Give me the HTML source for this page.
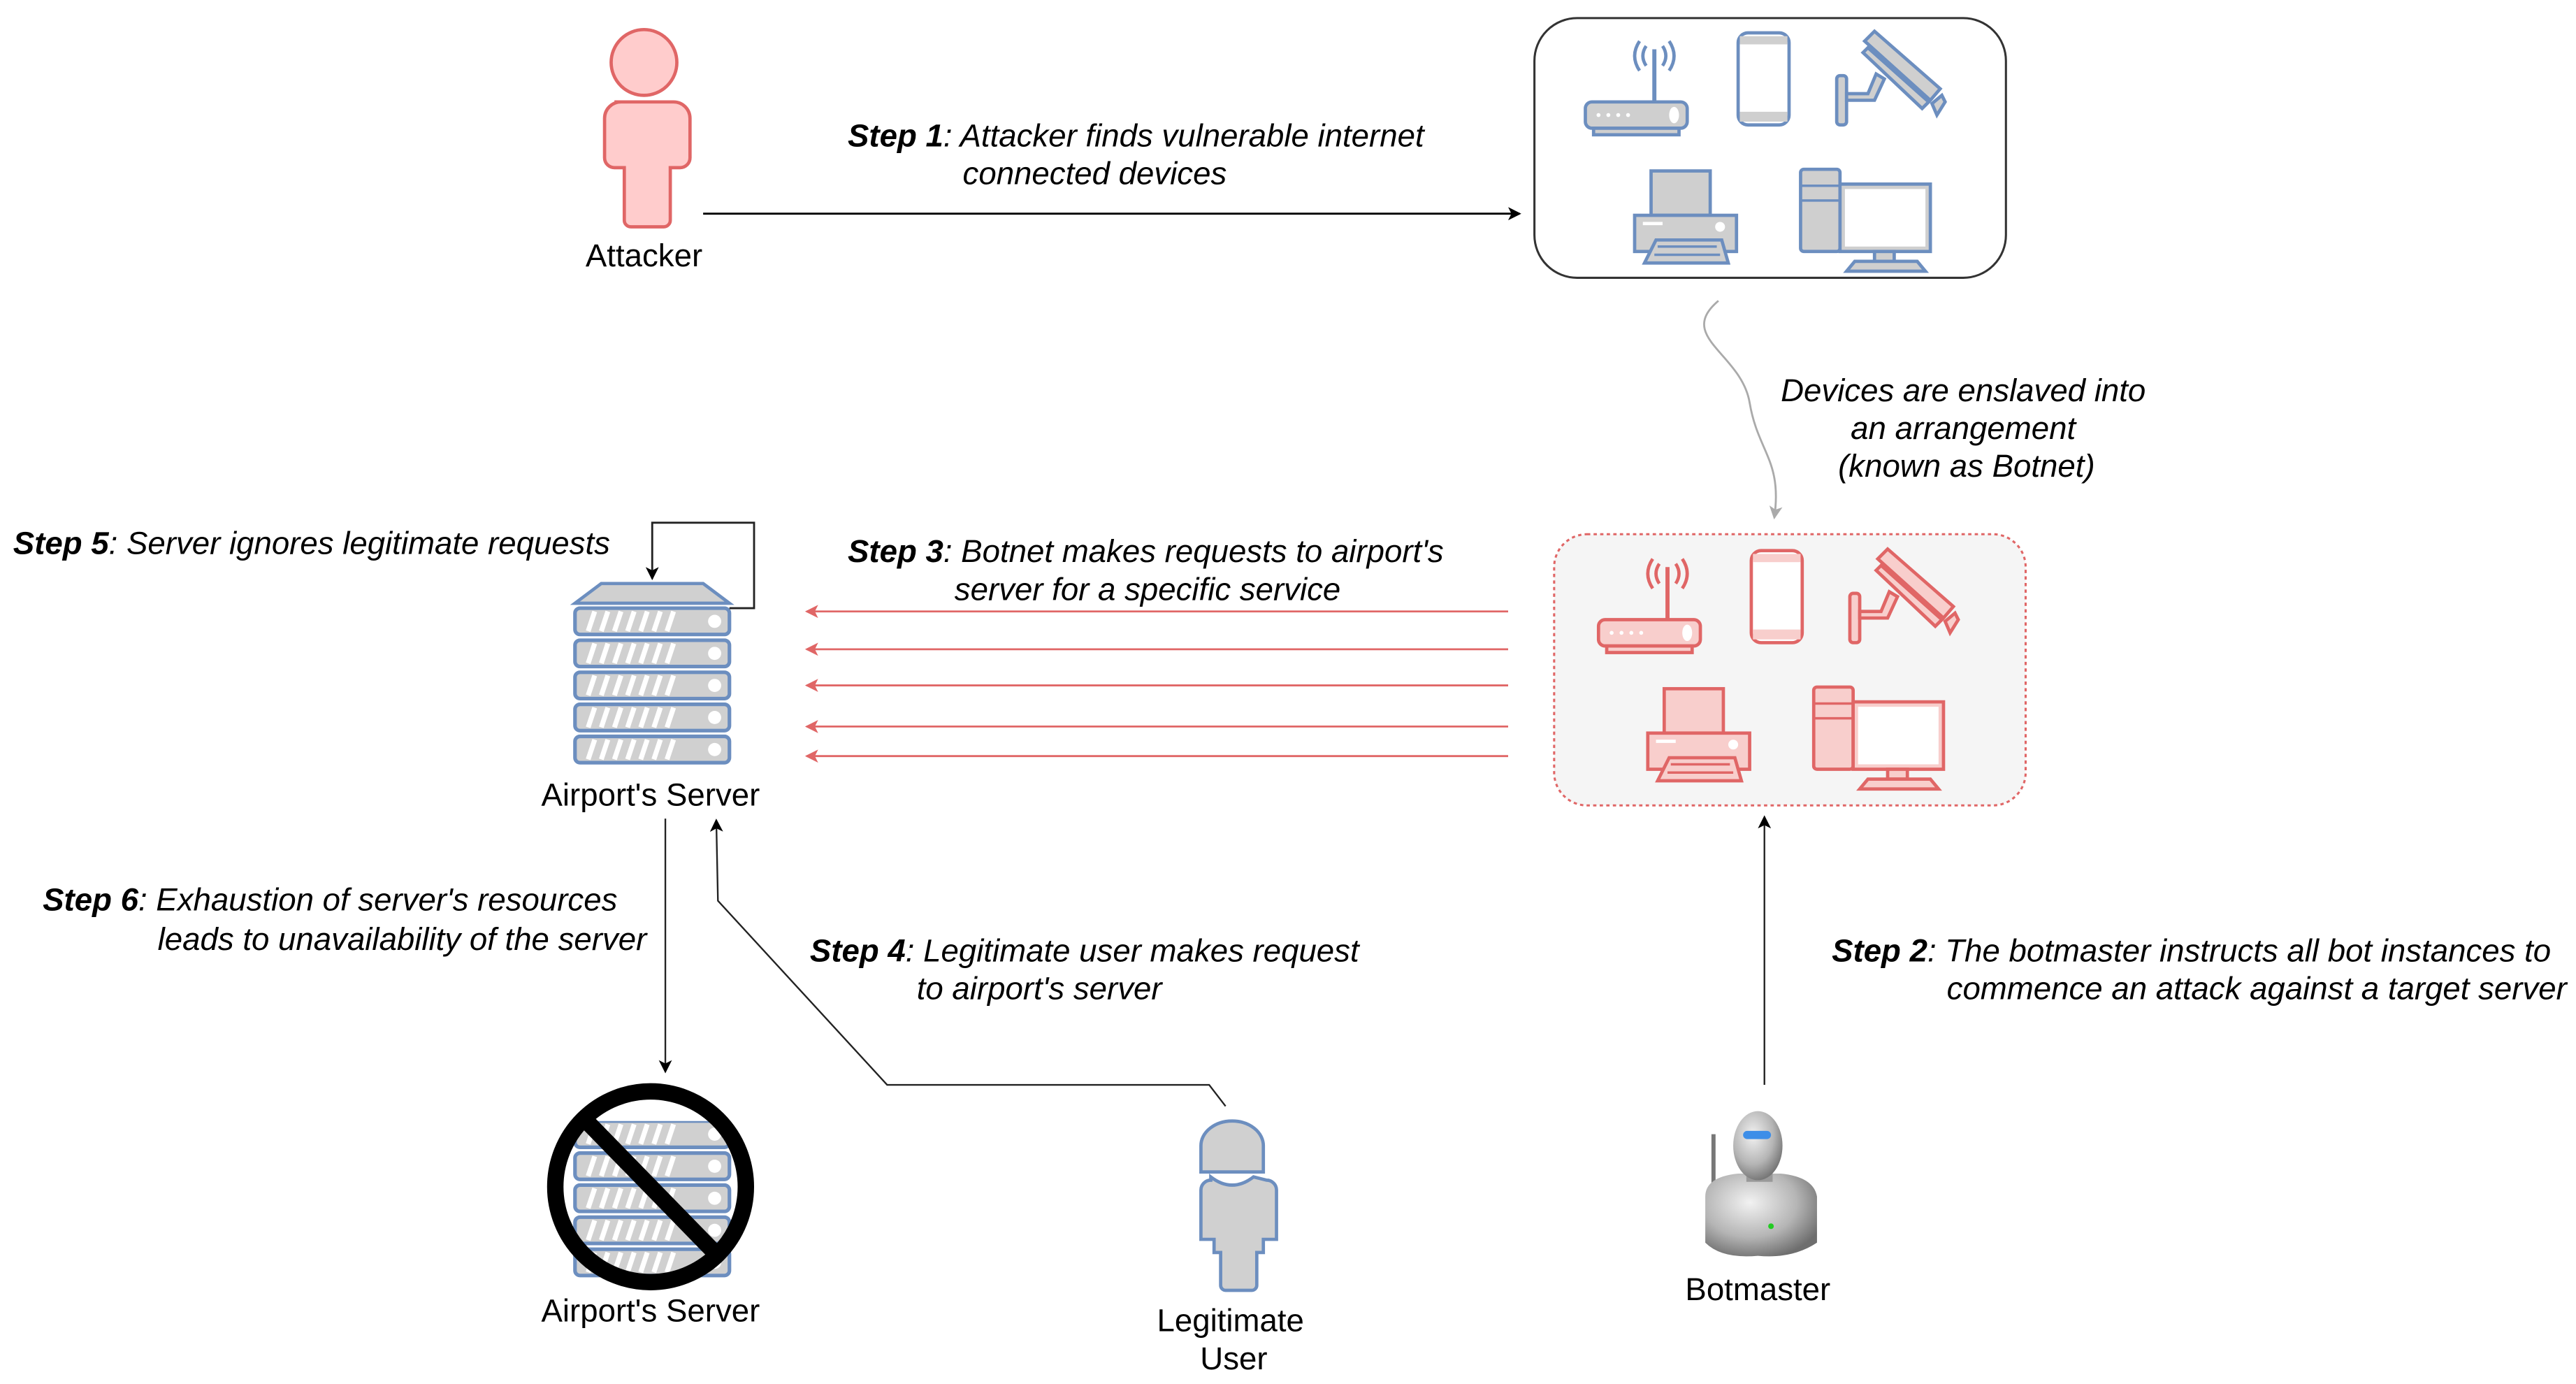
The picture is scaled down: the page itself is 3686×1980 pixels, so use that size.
<!DOCTYPE html>
<html><head><meta charset="utf-8"><style>
html,body{margin:0;padding:0;background:#fff;width:3686px;height:1980px;overflow:hidden}
svg{display:block}
text{font-family:"Liberation Sans",Arial,sans-serif;font-size:19.4px;fill:#000}
.it{font-style:italic}
.b{font-weight:bold}
.dev{fill:var(--f);stroke:var(--s);stroke-width:2}
</style></head><body>
<svg width="3686" height="1980" viewBox="0 0 1568 842" preserveAspectRatio="none" xmlns="http://www.w3.org/2000/svg">
<defs>
<marker id="ak" markerWidth="8" markerHeight="8" refX="7" refY="4" orient="auto" markerUnits="userSpaceOnUse"><path d="M0,0 L8,4 L0,8 L2,4z" fill="#000"/></marker>
<marker id="ar" markerWidth="8" markerHeight="8" refX="7" refY="4" orient="auto" markerUnits="userSpaceOnUse"><path d="M0,0 L8,4 L0,8 L2,4z" fill="#e06666"/></marker>
<marker id="ag" markerWidth="8" markerHeight="8" refX="7" refY="4" orient="auto" markerUnits="userSpaceOnUse"><path d="M0,0 L8,4 L0,8 L2,4z" fill="#aaa"/></marker>
<g id="devices">
 <line x1="1007" y1="30" x2="1007" y2="62" style="stroke:var(--s);stroke-width:2.5"/>
 <path d="M1002,28 q-4,6 0,12 M998,25 q-6,9 0,18 M1012,28 q4,6 0,12 M1016,25 q6,9 0,18" style="fill:none;stroke:var(--s);stroke-width:2"/>
 <rect class="dev" x="965" y="62" width="62" height="16" rx="4"/>
 <rect class="dev" x="970" y="78" width="52" height="4"/>
 <g fill="#fff"><circle cx="973" cy="70" r="1.2"/><circle cx="979" cy="70" r="1.2"/><circle cx="985" cy="70" r="1.2"/><circle cx="991" cy="70" r="1.2"/><ellipse cx="1019" cy="70" rx="3" ry="5"/></g>
 <rect x="1058" y="20" width="31" height="56" rx="6" style="fill:#fff;stroke:var(--s);stroke-width:2"/>
 <rect x="1059" y="22" width="29" height="5" style="fill:var(--f)"/>
 <rect x="1059" y="68" width="29" height="6" style="fill:var(--f)"/>
 <rect class="dev" x="1118" y="46" width="6" height="30" rx="2"/>
 <path class="dev" d="M1124,57 L1137,57 L1142,45 L1147,48 L1141,61 L1124,61z"/>
 <polygon class="dev" points="1135,25 1141,19 1181,54 1175,61"/>
 <polygon class="dev" points="1134,32 1137,29 1174,62 1170,66"/>
 <polygon class="dev" points="1176,63 1182,58 1184,62 1179,70"/>
 <rect class="dev" x="1005" y="104" width="36" height="27"/>
 <rect class="dev" x="995" y="131" width="62" height="22"/>
 <rect x="1000" y="135" width="12" height="2" fill="#fff"/>
 <circle cx="1047" cy="138" r="3" fill="#fff"/>
 <polygon class="dev" points="1008,146 1048,146 1052,160 1001,160"/>
 <path d="M1009,150 h36 M1007,155 h40" style="stroke:var(--s);stroke-width:1.5"/>
 <rect class="dev" x="1096" y="103" width="24" height="50" rx="2"/>
 <path d="M1096,113 h24 M1096,122 h24" style="stroke:var(--s);stroke-width:1.5"/>
 <rect x="1120" y="112" width="55" height="41" style="fill:var(--f);stroke:var(--s);stroke-width:2"/>
 <rect x="1123" y="115" width="49" height="35" fill="#fff"/>
 <rect class="dev" x="1141" y="153" width="12" height="6"/>
 <polygon class="dev" points="1129,159 1167,159 1172,165 1124,165"/>
</g>
<g id="server">
 <polygon points="366,355 428,355 444,367 350,367" fill="#d0d0d0" stroke="#6c8ebf" stroke-width="2"/>
 <g id="row"><rect x="350" y="370" width="94" height="16" rx="3" fill="#d0d0d0" stroke="#6c8ebf" stroke-width="2.2"/>
  <path d="M358,384 l4,-12 M366,384 l4,-12 M374,384 l4,-12 M382,384 l4,-12 M390,384 l4,-12 M398,384 l4,-12 M406,384 l4,-12" stroke="#fff" stroke-width="3"/>
  <circle cx="435" cy="378" r="4" fill="#fff"/></g>
 <use href="#row" y="19.5"/><use href="#row" y="39"/><use href="#row" y="58.5"/><use href="#row" y="78"/>
</g>
<radialGradient id="met" cx="0.4" cy="0.35" r="0.7"><stop offset="0" stop-color="#f2f2f2"/><stop offset="0.6" stop-color="#b5b5b5"/><stop offset="1" stop-color="#6e6e6e"/></radialGradient>
</defs>

<circle cx="392" cy="38" r="20" fill="#ffcccc" stroke="#e06666" stroke-width="2"/>
<path d="M374,62 h36 a10,10 0 0 1 10,10 v24 a6,6 0 0 1 -6,6 h-6 v32 a4,4 0 0 1 -4,4 h-20 a4,4 0 0 1 -4,-4 v-32 h-6 a6,6 0 0 1 -6,-6 v-24 a10,10 0 0 1 10,-10z" fill="#ffcccc" stroke="#e06666" stroke-width="2"/>
<text x="392" y="162" text-anchor="middle">Attacker</text>

<text x="516" y="89" class="it"><tspan class="b">Step 1</tspan>: Attacker finds vulnerable internet</text>
<text x="586" y="112" class="it">connected devices</text>
<line x1="428" y1="130" x2="925" y2="130" stroke="#000" stroke-width="1.2" marker-end="url(#ak)"/>

<rect x="934" y="11" width="287" height="158" rx="26" fill="#fff" stroke="#333" stroke-width="1.3"/>
<g style="--f:#cfcfcf;--s:#6c8ebf"><use href="#devices"/></g>

<path d="M1046,183 C1020,205 1060,215 1065,245 C1070,275 1085,280 1080,315" fill="none" stroke="#aaa" stroke-width="1.2" marker-end="url(#ag)"/>
<text x="1195" y="244" text-anchor="middle" class="it">Devices are enslaved into</text>
<text x="1195" y="267" text-anchor="middle" class="it">an arrangement</text>
<text x="1197" y="290" text-anchor="middle" class="it">(known as Botnet)</text>

<rect x="946" y="325" width="287" height="165" rx="20" fill="#f5f5f5" stroke="#e06666" stroke-width="1.3" stroke-dasharray="2,2"/>
<g style="--f:#f8cecc;--s:#e06666" transform="translate(8,315)"><use href="#devices"/></g>

<text x="516" y="342" class="it"><tspan class="b">Step 3</tspan>: Botnet makes requests to airport's</text>
<text x="581" y="365" class="it">server for a specific service</text>
<g stroke="#e06666" stroke-width="1.2" marker-end="url(#ar)">
<line x1="918" y1="372" x2="491" y2="372"/><line x1="918" y1="395" x2="491" y2="395"/><line x1="918" y1="417" x2="491" y2="417"/><line x1="918" y1="442" x2="491" y2="442"/><line x1="918" y1="460" x2="491" y2="460"/>
</g>

<use href="#server"/>
<path d="M444,370 H459 V318 H397 V352" fill="none" stroke="#222" stroke-width="1.2" marker-end="url(#ak)"/>
<text x="8" y="337" class="it"><tspan class="b">Step 5</tspan>: Server ignores legitimate requests</text>
<text x="396" y="490" text-anchor="middle">Airport's Server</text>

<line x1="405" y1="498" x2="405" y2="652" stroke="#222" stroke-width="1" marker-end="url(#ak)"/>
<text x="26" y="554" class="it"><tspan class="b">Step 6</tspan>: Exhaustion of server's resources</text>
<text x="96" y="578" class="it">leads to unavailability of the server</text>

<path d="M746,673 L736,660 L540,660 L437,548 L436,499" fill="none" stroke="#222" stroke-width="1" marker-end="url(#ak)"/>
<text x="493" y="585" class="it"><tspan class="b">Step 4</tspan>: Legitimate user makes request</text>
<text x="558" y="608" class="it">to airport's server</text>

<g transform="translate(0,312)"><use href="#server"/></g>
<rect x="340" y="660" width="120" height="22" fill="#fff"/>
<circle cx="396" cy="722" r="58" fill="none" stroke="#000" stroke-width="10"/>
<line x1="356" y1="681" x2="437" y2="764" stroke="#000" stroke-width="10"/>
<text x="396" y="804" text-anchor="middle">Airport's Server</text>

<path d="M731,697 a19,15 0 0 1 38,0 v16 h-38z" fill="#d0d0d0" stroke="#6c8ebf" stroke-width="2"/>
<path d="M737,716 q13,10 26,0 l8,2 a6,6 0 0 1 6,6 v30 h-8 v8 h-4 v20 a3,3 0 0 1 -3,3 h-16 a3,3 0 0 1 -3,-3 v-20 h-4 v-8 h-8 v-30 a6,6 0 0 1 6,-6z" fill="#d0d0d0" stroke="#6c8ebf" stroke-width="2"/>
<text x="749" y="810" text-anchor="middle">Legitimate</text>
<text x="751" y="833" text-anchor="middle">User</text>

<line x1="1074" y1="660" x2="1074" y2="497" stroke="#222" stroke-width="1" marker-end="url(#ak)"/>
<text x="1115" y="585" class="it"><tspan class="b">Step 2</tspan>: The botmaster instructs all bot instances to</text>
<text x="1185" y="608" class="it">commence an attack against a target server</text>
<line x1="1043" y1="690" x2="1043" y2="730" stroke="#777" stroke-width="2.5"/>
<path d="M1038,728 q0,-12 20,-14 h26 q20,2 22,14 v28 q-15,10 -36,8 q-22,2 -32,-8z" fill="url(#met)"/>
<path d="M1063,705 h16 v14 h-16z" fill="#999"/>
<ellipse cx="1070" cy="697" rx="15" ry="21" fill="url(#met)"/>
<rect x="1061" y="688" width="17" height="5" rx="2.5" fill="#3d8ee8"/>
<circle cx="1078" cy="746" r="1.7" fill="#2c2"/>
<text x="1070" y="791" text-anchor="middle">Botmaster</text>
</svg>
</body></html>
